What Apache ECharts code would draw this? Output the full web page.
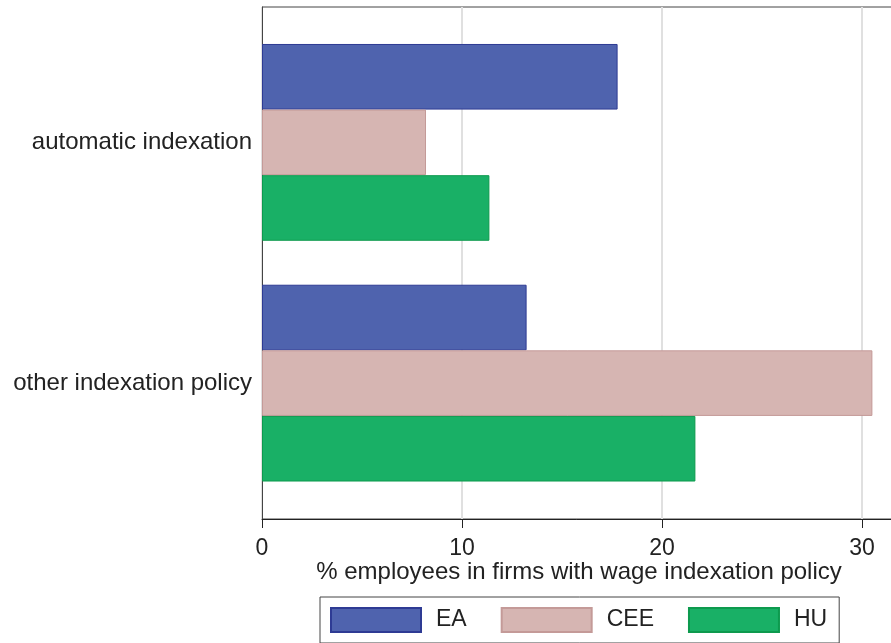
<!DOCTYPE html>
<html>
<head>
<meta charset="utf-8">
<script src="https://cdn.jsdelivr.net/npm/echarts@6/dist/echarts.min.js"></script>
<style>
  html, body { margin: 0; padding: 0; background: #fff; }
  #chart { width: 891px; height: 643px; }
</style>
</head>
<body>
<div id="chart"></div>
<script>
const categories = ['automatic indexation', 'other indexation policy'];
const seriesNames = ['EA', 'CEE', 'HU'];
const eaValues = [17.78, 13.23];
const ceeValues = [8.2, 30.52];
const huValues = [11.37, 21.67];
const xTicks = [0, 10, 20, 30];

const fills = ['#4f63ae', '#d6b5b2', '#19b066'];
const borders = ['#2e3b94', '#c49a98', '#0d9a4e'];
const values = [eaValues, ceeValues, huValues];

const chart = echarts.init(document.getElementById('chart'));

// plot runs past the right edge so its border stays hidden
const plotWidth = 633;
const xMax = plotWidth / 20;
const font = 'Liberation Sans, Arial, sans-serif';

chart.setOption({
  animation: false,
  grid: [
    // frame: axis line, ticks, gridlines
    { left: 262, top: 7, width: plotWidth, height: 512, outerBoundsMode: 'none',
      show: true, borderColor: '#444', borderWidth: 1 },
    // bars
    { left: 262, top: 22, width: plotWidth, height: 481.5, outerBoundsMode: 'none' }
  ],
  xAxis: [
    {
      gridIndex: 0, type: 'value', min: xTicks[0], max: xMax, interval: 10,
      axisLine: { show: true, lineStyle: { color: '#222', width: 1 } },
      axisTick: { show: true, length: 9, lineStyle: { color: '#222' } },
      axisLabel: { showMaxLabel: false, fontSize: 23, color: '#222', fontFamily: font, margin: 18 },
      splitLine: { show: true, showMaxLine: false, lineStyle: { color: '#e0e0e0', width: 2 } }
    },
    {
      gridIndex: 1, type: 'value', min: xTicks[0], max: xMax,
      axisLine: { show: false }, axisTick: { show: false },
      axisLabel: { show: false }, splitLine: { show: false }
    }
  ],
  yAxis: [
    {
      gridIndex: 0, type: 'value',
      axisLine: { show: true, lineStyle: { color: '#444' } },
      axisTick: { show: false }, axisLabel: { show: false }, splitLine: { show: false }
    },
    {
      gridIndex: 1, type: 'category', data: categories, inverse: true,
      axisLine: { show: false }, axisTick: { show: false },
      axisLabel: { fontSize: 24, color: '#222', fontFamily: font, margin: 10, padding: [7, 0, 0, 0] }
    }
  ],
  legend: {
    top: 597, left: 320,
    data: seriesNames,
    itemWidth: 90, itemHeight: 24, itemGap: 34,
    padding: [10, 12, 10, 10],
    borderColor: '#444', borderWidth: 1,
    icon: 'rect',
    textStyle: { fontSize: 23, color: '#222', fontFamily: font, padding: [0, 0, 0, 10] }
  },
  graphic: [{
    type: 'text', x: 579, y: 572,
    style: {
      text: '% employees in firms with wage indexation policy',
      font: '24px ' + font, fill: '#222',
      textAlign: 'center', textVerticalAlign: 'middle'
    }
  }],
  series: seriesNames.map((name, i) => ({
    name: name, type: 'bar',
    xAxisIndex: 1, yAxisIndex: 1,
    data: values[i],
    barWidth: 65.6, barGap: '0%',
    itemStyle: { color: fills[i], borderColor: borders[i], borderWidth: 1 }
  }))
});
</script>
</body>
</html>
